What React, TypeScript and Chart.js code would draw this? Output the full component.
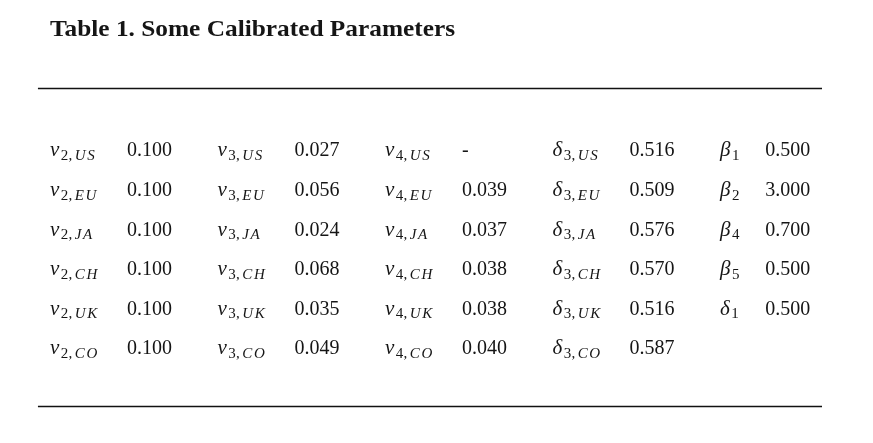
import React, { useEffect, useRef } from 'react';
import { Chart, registerables } from 'chart.js';

Chart.register(...registerables);

// ---- data ----
const TITLE = 'Table 1. Some Calibrated Parameters';
const REGIONS = ['US', 'EU', 'JA', 'CH', 'UK', 'CO'];
const NU2 = [0.1, 0.1, 0.1, 0.1, 0.1, 0.1];
const NU3 = [0.027, 0.056, 0.024, 0.068, 0.035, 0.049];
const NU4: (number | null)[] = [null, 0.039, 0.037, 0.038, 0.038, 0.04];
const DELTA3 = [0.516, 0.509, 0.576, 0.57, 0.516, 0.587];
const EXTRA_SYMBOLS = ['β', 'β', 'β', 'β', 'δ'];
const EXTRA_SUBS = ['1', '2', '4', '5', '1'];
const EXTRA_VALUES = [0.5, 3.0, 0.7, 0.5, 0.5];

// ---- layout / style ----
const W = 873;
const H = 443;
const SERIF = '"Liberation Serif", "DejaVu Serif", serif';
const MAIN_PX = 20;
const SYM_PX = 21;
const SUB_PX = 15;
const SUB_DROP = 3.5;
const VALUE_OFFSET = [0.46, 0.46, 0.46, 0.46, 0.27];
const TITLE_ROW = -3.04;
const TOP_RULE_ROW = -1.73;
const BOTTOM_RULE_ROW = 6.3;
const RULE_X = [-0.072, 4.609];
const TITLE_WIDTH = 405;

type Group = { sym: string[]; sub: string[]; values: (number | null)[] };

const groups: Group[] = [
  { sym: REGIONS.map(() => 'ν'), sub: REGIONS.map((r) => '2,' + r), values: NU2 },
  { sym: REGIONS.map(() => 'ν'), sub: REGIONS.map((r) => '3,' + r), values: NU3 },
  { sym: REGIONS.map(() => 'ν'), sub: REGIONS.map((r) => '4,' + r), values: NU4 },
  { sym: REGIONS.map(() => 'δ'), sub: REGIONS.map((r) => '3,' + r), values: DELTA3 },
  { sym: EXTRA_SYMBOLS, sub: EXTRA_SUBS, values: EXTRA_VALUES },
];

function drawSymbol(ctx: CanvasRenderingContext2D, x: number, y: number, sym: string, sub: string) {
  ctx.font = `italic ${SYM_PX}px ${SERIF}`;
  ctx.fillText(sym, x, y);
  let cx = x + ctx.measureText(sym).width + 1.5;
  const sy = y + SUB_DROP;
  for (const ch of sub) {
    const isLetter = /[A-Za-z]/.test(ch);
    ctx.font = `${isLetter ? 'italic ' : ''}${SUB_PX}px ${SERIF}`;
    ctx.fillText(ch, cx, sy);
    cx += ctx.measureText(ch).width + (ch === ',' ? 2.5 : isLetter ? 1.5 : 0.3);
  }
}

const tablePlugin = {
  id: 'tableText',
  afterDatasetsDraw(chart: any) {
    const ctx: CanvasRenderingContext2D = chart.ctx;
    const xs = chart.scales.x;
    const ys = chart.scales.y;
    ctx.save();
    ctx.fillStyle = '#151515';
    ctx.strokeStyle = '#111';
    ctx.textBaseline = 'alphabetic';
    ctx.textAlign = 'left';

    // title
    ctx.font = `bold 23px ${SERIF}`;
    const tw = ctx.measureText(TITLE).width;
    ctx.save();
    ctx.translate(xs.getPixelForValue(0), ys.getPixelForValue(TITLE_ROW));
    ctx.scale(TITLE_WIDTH / tw, 1);
    ctx.fillText(TITLE, 0, 0);
    ctx.restore();

    // rules
    ctx.lineWidth = 1.3;
    for (const r of [TOP_RULE_ROW, BOTTOM_RULE_ROW]) {
      const py = Math.round(ys.getPixelForValue(r)) + 0.5;
      ctx.beginPath();
      ctx.moveTo(xs.getPixelForValue(RULE_X[0]), py);
      ctx.lineTo(xs.getPixelForValue(RULE_X[1]), py);
      ctx.stroke();
    }

    // cells
    groups.forEach((g, gi) => {
      const meta = chart.getDatasetMeta(gi);
      g.values.forEach((v, ri) => {
        const el = meta.data[ri];
        if (!el) return;
        drawSymbol(ctx, xs.getPixelForValue(gi), el.y, g.sym[ri], g.sub[ri]);
        ctx.font = `${MAIN_PX}px ${SERIF}`;
        ctx.fillText(v == null ? '-' : v.toFixed(3), el.x, el.y);
      });
    });
    ctx.restore();
  },
};

export default function App() {
  const ref = useRef<HTMLCanvasElement>(null);
  useEffect(() => {
    document.body.style.margin = '0';
    const canvas = ref.current;
    if (!canvas) return;
    const datasets = groups.map((g, gi) => ({
      label: 'col' + gi,
      data: g.values.map((_, ri) => ({ x: gi + VALUE_OFFSET[gi], y: ri })),
      pointRadius: 0,
      pointHoverRadius: 0,
      showLine: false,
    }));
    const chart = new Chart(canvas, {
      type: 'scatter',
      data: { datasets },
      options: {
        animation: false,
        responsive: false,
        events: [],
        layout: { padding: { left: 50, right: W - 720, top: 0, bottom: 0 } },
        plugins: { legend: { display: false }, tooltip: { enabled: false }, title: { display: false } },
        scales: {
          x: { type: 'linear', display: false, min: 0, max: 4 },
          y: { type: 'linear', display: false, min: -3.952, max: 7.235, reverse: true },
        },
      },
      plugins: [tablePlugin],
    });
    return () => chart.destroy();
  }, []);
  return (
    <div style={{ position: 'fixed', left: 0, top: 0, width: W, height: H, background: '#fff' }}>
      <canvas ref={ref} width={W} height={H} style={{ display: 'block' }} />
    </div>
  );
}
